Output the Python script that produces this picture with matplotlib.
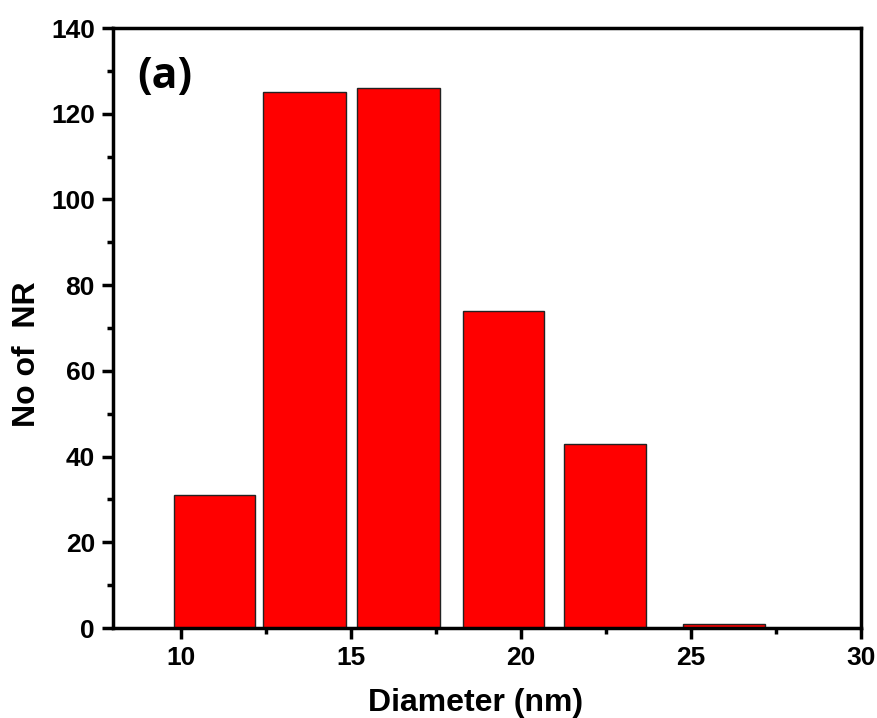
import matplotlib
matplotlib.use("Agg")
import matplotlib.pyplot as plt
from matplotlib.ticker import MultipleLocator

bar_left = [9.79, 12.42, 15.19, 18.29, 21.26, 24.76]
bar_width = [2.38, 2.43, 2.43, 2.40, 2.42, 2.41]
counts = [31, 125, 126, 74, 43, 1]
xticks = [10, 15, 20, 25, 30]
yticks = [0, 20, 40, 60, 80, 100, 120, 140]

plt.rcParams['font.family'] = ['Liberation Sans', 'DejaVu Sans']
plt.rcParams['font.weight'] = 'bold'

fig = plt.figure(figsize=(8.78, 7.18), dpi=100)
ax = fig.add_axes([0.1287, 0.1253, 0.8519, 0.8357])

ax.bar(bar_left, counts, width=bar_width, align='edge', color='#ff0000',
       edgecolor='#222222', linewidth=1.0)

ax.set_xlim(8, 30)
ax.set_ylim(0, 140)
ax.set_xticks(xticks)
ax.set_yticks(yticks)
ax.xaxis.set_minor_locator(MultipleLocator(2.5))
ax.yaxis.set_minor_locator(MultipleLocator(10))
for s in ax.spines.values():
    s.set_linewidth(2.5)
ax.tick_params(which='major', direction='out', length=8, width=2.5, labelsize=19, pad=5)
ax.tick_params(which='minor', direction='out', length=4, width=2.5)
ax.tick_params(top=False, right=False, which='both')
for lab in ax.get_xticklabels() + ax.get_yticklabels():
    lab.set_fontweight('bold')

ax.set_xlabel('Diameter (nm)', fontsize=23, fontweight='bold')
ax.set_ylabel('No of  NR', fontsize=23, fontweight='bold')
ax.xaxis.set_label_coords(0.4846, -0.1)
ax.yaxis.set_label_coords(-0.0947, 0.457)

ax.text(0.033, 0.955, '(a)', transform=ax.transAxes, fontsize=31, fontweight='bold',
        family=['Open Sans', 'DejaVu Sans'], va='top', ha='left')

fig.savefig('out.png', dpi=100)
